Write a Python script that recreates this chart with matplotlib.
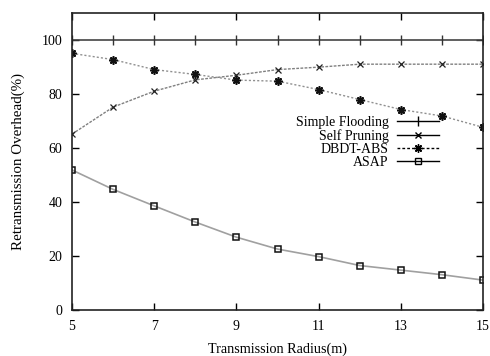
import matplotlib
matplotlib.use("Agg")
import matplotlib.pyplot as plt
from matplotlib.lines import Line2D

plt.rcParams['font.family'] = ['Liberation Serif', 'DejaVu Serif']

# data
radius = [5, 6, 7, 8, 9, 10, 11, 12, 13, 14, 15]
simple_flooding = [100, 100, 100, 100, 100, 100, 100, 100, 100, 100, 100]
self_pruning = [65.2, 75.2, 81.1, 85.3, 87.0, 89.1, 90.0, 91.1, 91.1, 91.1, 91.1]
dbdt_abs = [95.1, 92.8, 89.1, 87.3, 85.2, 84.8, 81.7, 78.0, 74.3, 71.9, 67.7]
asap = [51.9, 44.7, 38.6, 32.6, 27.0, 22.6, 19.8, 16.5, 14.8, 13.1, 11.1]
labels = ["Simple Flooding", "Self Pruning", "DBDT-ABS", "ASAP"]

fig = plt.figure(figsize=(4.9, 3.56), dpi=100)
ax = fig.add_axes([0.147, 0.129, 0.839, 0.834])

ax.plot(radius, simple_flooding, color='#444444', lw=1.2, marker='|', ms=7, mec='#333333', mew=1.0)
ax.plot(radius, self_pruning, color='#808080', lw=1.0, ls=(0, (2, 1)), marker='x', ms=4, mec='#222222', mew=0.9)
ax.plot(radius, dbdt_abs, color='#909090', lw=1.0, ls=(0, (1.5, 1.5)), marker=(8, 2, 0), ms=6, mec='#111111', mew=1.2)
ax.plot(radius, asap, color='#a0a0a0', lw=1.2, marker='s', ms=4, mfc='none', mec='#111111', mew=1.1)

# gnuplot-style key: black samples, text right-aligned before them
handles = [
    Line2D([], [], color='k', lw=1.0, marker='|', ms=7),
    Line2D([], [], color='k', lw=1.0, marker='x', ms=4),
    Line2D([], [], color='k', lw=1.0, ls=(0, (2, 1.5)), marker=(8, 2, 0), ms=6),
    Line2D([], [], color='k', lw=1.0, marker='s', ms=4, mfc='none'),
]
ax.legend(handles, labels, markerfirst=False, frameon=False, loc='center right',
          bbox_to_anchor=(0.905, 0.565), fontsize=10, handlelength=3.0,
          labelspacing=0.02, handletextpad=0.6, borderaxespad=0)

ax.set_xlim(5, 15)
ax.set_ylim(0, 110)
ax.set_xticks([5, 7, 9, 11, 13, 15])
ax.set_yticks([0, 20, 40, 60, 80, 100])
ax.tick_params(direction='in', top=True, right=True, labelsize=10, length=5, width=1, pad=7)
for s in ax.spines.values():
    s.set_linewidth(1.2)
    s.set_color('#222222')

ax.set_xlabel("Transmission Radius(m)", fontsize=10.2, labelpad=7)
ax.set_ylabel("Retransmission Overhead(%)", fontsize=10.8, labelpad=12)

fig.savefig("out.png", dpi=100)
